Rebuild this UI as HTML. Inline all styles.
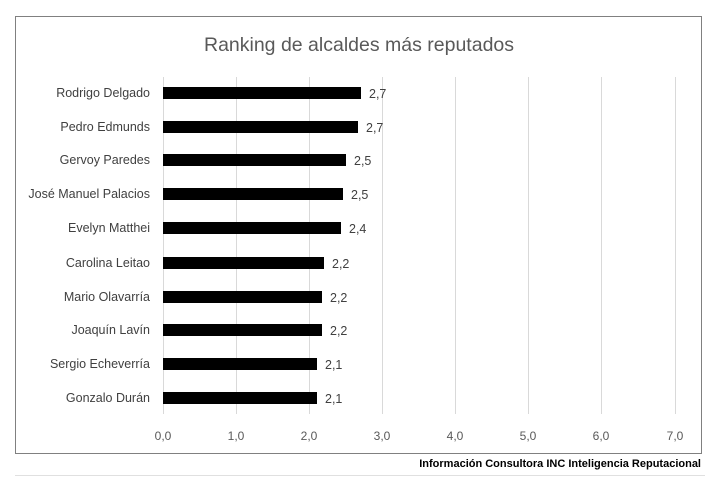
<!DOCTYPE html>
<html><head><meta charset="utf-8"><style>
body{margin:0;background:#fff;width:727px;height:477px;overflow:hidden;font-family:"Liberation Sans",sans-serif}
</style></head><body>
<svg width="727" height="477" xmlns="http://www.w3.org/2000/svg" font-family="Liberation Sans, sans-serif">
<rect x="15.5" y="16.5" width="686" height="437" fill="#fff" stroke="#808080" stroke-width="1"/>
<text x="359" y="51" text-anchor="middle" font-size="19.5" fill="#595959">Ranking de alcaldes más reputados</text>
<g stroke="#d9d9d9" stroke-width="1">
<line x1="163.5" y1="77" x2="163.5" y2="414"/>
<line x1="236.5" y1="77" x2="236.5" y2="414"/>
<line x1="309.5" y1="77" x2="309.5" y2="414"/>
<line x1="382.5" y1="77" x2="382.5" y2="414"/>
<line x1="455.5" y1="77" x2="455.5" y2="414"/>
<line x1="528.5" y1="77" x2="528.5" y2="414"/>
<line x1="601.5" y1="77" x2="601.5" y2="414"/>
<line x1="675.5" y1="77" x2="675.5" y2="414"/>
</g>
<g font-size="12" fill="#595959" text-anchor="middle">
<text x="163" y="440">0,0</text><text x="236" y="440">1,0</text><text x="309" y="440">2,0</text><text x="382" y="440">3,0</text><text x="455" y="440">4,0</text><text x="528" y="440">5,0</text><text x="601" y="440">6,0</text><text x="675" y="440">7,0</text>
</g>
<g fill="#000">
<rect x="163" y="87" width="198" height="12"/>
<rect x="163" y="121" width="195" height="12"/>
<rect x="163" y="154" width="183" height="12"/>
<rect x="163" y="188" width="180" height="12"/>
<rect x="163" y="222" width="178" height="12"/>
<rect x="163" y="257" width="161" height="12"/>
<rect x="163" y="291" width="159" height="12"/>
<rect x="163" y="324" width="159" height="12"/>
<rect x="163" y="358" width="154" height="12"/>
<rect x="163" y="392" width="154" height="12"/>
</g>
<g font-size="12.5" fill="#404040" text-anchor="end">
<text x="150" y="97">Rodrigo Delgado</text>
<text x="150" y="131">Pedro Edmunds</text>
<text x="150" y="164">Gervoy Paredes</text>
<text x="150" y="198">José Manuel Palacios</text>
<text x="150" y="232">Evelyn Matthei</text>
<text x="150" y="267">Carolina Leitao</text>
<text x="150" y="301">Mario Olavarría</text>
<text x="150" y="334">Joaquín Lavín</text>
<text x="150" y="368">Sergio Echeverría</text>
<text x="150" y="402">Gonzalo Durán</text>
</g>
<g font-size="12.5" fill="#404040">
<text x="369" y="98">2,7</text>
<text x="366" y="132">2,7</text>
<text x="354" y="165">2,5</text>
<text x="351" y="199">2,5</text>
<text x="349" y="233">2,4</text>
<text x="332" y="268">2,2</text>
<text x="330" y="302">2,2</text>
<text x="330" y="335">2,2</text>
<text x="325" y="369">2,1</text>
<text x="325" y="403">2,1</text>
</g>
<text x="701" y="467" text-anchor="end" font-size="11" font-weight="bold" fill="#000">Información Consultora INC Inteligencia Reputacional</text>
<line x1="15" y1="475.5" x2="705" y2="475.5" stroke="#e0e0e0"/>
</svg>
</body></html>
